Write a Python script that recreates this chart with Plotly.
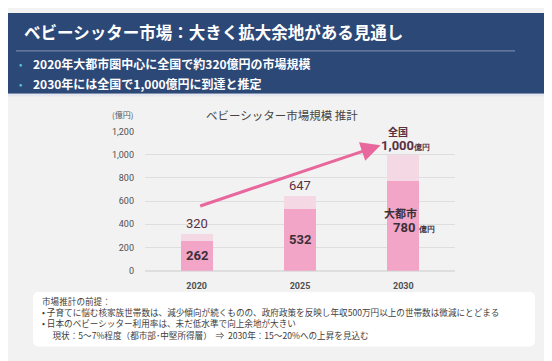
import plotly.graph_objects as go

W, H = 552, 361

# ---- data ----
years = ["2020", "2025", "2030"]
national = [320, 647, 1000]      # 全国 (億円)
metro = [262, 532, 780]          # 大都市 (億円)
y_ticks = [0, 200, 400, 600, 800, 1000, 1200]
y_tick_labels = ["0", "200", "400", "600", "800", "1,000", "1,200"]
trend_start = (0.02, 554)
trend_end = (1.78, 1082)

title = "ベビーシッター市場：大きく拡大余地がある見通し"
bullets = ["2020年大都市圏中心に全国で約320億円の市場規模",
           "2030年には全国で1,000億円に到達と推定"]
chart_title = "ベビーシッター市場規模 推計"
notes = ["市場推計の前提：",
         "• 子育てに悩む核家族世帯数は、減少傾向が続くものの、政府政策を反映し年収500万円以上の世帯数は微減にとどまる",
         "• 日本のベビーシッター利用率は、未だ低水準で向上余地が大きい",
         "　 現状：5～7%程度（都市部･中堅所得層）  ⇒  2030年：15～20%への上昇を見込む"]

upper = [n - m for n, m in zip(national, metro)]
xs = list(range(len(years)))

FONT = "Noto Sans CJK JP"
PINK = "#f2a5c7"
LIGHT = "#f4d8e4"


def px(x):
    return x / W


def py(y):
    return 1 - y / H


fig = go.Figure()
fig.add_trace(go.Bar(x=xs, y=metro, marker=dict(color=PINK, line=dict(width=0)),
                     width=0.31, hoverinfo="skip"))
fig.add_trace(go.Bar(x=xs, y=upper, marker=dict(color=LIGHT, line=dict(width=0)),
                     width=0.31, hoverinfo="skip"))

shapes = [
    dict(type="rect", xref="paper", yref="paper", x0=0, x1=1, y0=py(83), y1=1,
         fillcolor="#2c4877", line=dict(width=0), layer="below"),
    dict(type="rect", xref="paper", yref="paper", x0=0, x1=1, y0=py(86), y1=py(83),
         fillcolor="#e4e7f0", line=dict(width=0), layer="below"),
    dict(type="line", xref="paper", yref="paper", x0=px(8), x1=px(507), y0=py(39), y1=py(39),
         line=dict(color="#8797b8", width=1)),
]
# rounded notes box
x0, x1, y0, y1, r = 25, 527, 287, 343, 6
path = (f"M {px(x0+r)},{py(y0)} L {px(x1-r)},{py(y0)} Q {px(x1)},{py(y0)} {px(x1)},{py(y0+r)} "
        f"L {px(x1)},{py(y1-r)} Q {px(x1)},{py(y1)} {px(x1-r)},{py(y1)} "
        f"L {px(x0+r)},{py(y1)} Q {px(x0)},{py(y1)} {px(x0)},{py(y1-r)} "
        f"L {px(x0)},{py(y0+r)} Q {px(x0)},{py(y0)} {px(x0+r)},{py(y0)} Z")
shapes.append(dict(type="path", xref="paper", yref="paper", path=path,
                   fillcolor="#ffffff", line=dict(width=0), layer="below"))

ann = []
ann.append(dict(text=f"<b>{title}</b>", xref="paper", yref="paper", x=px(14), y=py(20),
                xanchor="left", yanchor="middle", showarrow=False,
                font=dict(family=FONT, size=16.5, color="#ffffff")))
for i, b in enumerate(bullets):
    yy = 52 + 20 * i
    ann.append(dict(text="•", xref="paper", yref="paper", x=px(9), y=py(yy),
                    xanchor="left", yanchor="middle", showarrow=False,
                    font=dict(family=FONT, size=10, color="#5cc4c8")))
    ann.append(dict(text=f"<b>{b}</b>", xref="paper", yref="paper", x=px(23), y=py(yy),
                    xanchor="left", yanchor="middle", showarrow=False,
                    font=dict(family=FONT, size=12, color="#ffffff")))
ann.append(dict(text=chart_title, xref="paper", yref="paper", x=px(274), y=py(105),
                xanchor="center", yanchor="middle", showarrow=False,
                font=dict(family=FONT, size=11.5, color="#444444")))
ann.append(dict(text="(億円)", xref="paper", yref="paper", x=px(127), y=py(104),
                xanchor="right", yanchor="middle", showarrow=False,
                font=dict(family=FONT, size=8, color="#555555")))

# bar labels
for i in range(len(years)):
    if i < len(years) - 1:
        ann.append(dict(text=f"{national[i]:,}", x=xs[i], y=national[i], xref="x", yref="y",
                        yanchor="bottom", yshift=1, showarrow=False,
                        font=dict(family="Roboto", size=13, color="#5a3041")))
        ann.append(dict(text=f"<b>{metro[i]}</b>", x=xs[i], y=metro[i] / 2, xref="x", yref="y",
                        yanchor="middle", showarrow=False,
                        font=dict(family="Roboto", size=13, color="#3b3037")))
    else:
        ann.append(dict(text="<b>全国</b>", x=xs[i], y=national[i], xref="x", yref="y",
                        yanchor="bottom", xshift=-5, yshift=14, showarrow=False,
                        font=dict(family=FONT, size=10, color="#5a3041")))
        ann.append(dict(text=f"<b>{national[i]:,}</b><span style='font-size:8px'><b>億円</b></span>",
                        x=xs[i], y=national[i], xref="x", yref="y",
                        yanchor="bottom", xshift=2, yshift=0, showarrow=False,
                        font=dict(family="Roboto", size=13, color="#5a3041")))
        ann.append(dict(text="<b>大都市</b>", x=xs[i], y=metro[i] / 2, xref="x", yref="y",
                        yanchor="middle", xshift=-3, yshift=12, showarrow=False,
                        font=dict(family=FONT, size=11, color="#3b3037")))
        ann.append(dict(text=f"<b>{metro[i]}</b> <span style='font-size:7.5px'><b>億円</b></span>",
                        x=xs[i], y=metro[i] / 2, xref="x", yref="y",
                        yanchor="middle", xshift=11, yshift=-2, showarrow=False,
                        font=dict(family="Roboto", size=13, color="#3b3037")))

# trend arrow
ann.append(dict(x=trend_end[0], y=trend_end[1], ax=trend_start[0], ay=trend_start[1],
                xref="x", yref="y", axref="x", ayref="y", text="", showarrow=True,
                arrowhead=2, arrowsize=1.3, arrowwidth=3, arrowcolor="#e8679c"))

# notes (one multi-line text block)
ann.append(dict(text="<br>".join(notes), xref="paper", yref="paper", x=px(32), y=py(314),
                xanchor="left", yanchor="middle", align="left", showarrow=False,
                font=dict(family=FONT, size=8.6, color="#404040")))

fig.update_layout(
    width=W, height=H, autosize=False,
    margin=dict(l=0, r=0, t=0, b=0),
    paper_bgcolor="#f2f2f2", plot_bgcolor="#f2f2f2",
    barmode="stack", showlegend=False, bargap=0,
    shapes=shapes, annotations=ann,
    xaxis=dict(domain=[px(137), px(447)], range=[-0.5, 2.5], tickmode="array",
               tickvals=xs, ticktext=[f"<b>{y}</b>" for y in years], showgrid=False,
               zeroline=False, showline=False, ticks="", ticklabelstandoff=8,
               tickfont=dict(family="Roboto", size=9, color="#505050"), fixedrange=True),
    yaxis=dict(domain=[py(265), py(122)], range=[0, 1200], tickmode="array",
               tickvals=y_ticks, ticktext=y_tick_labels, showgrid=True,
               gridcolor="#dedede", gridwidth=1, zeroline=True, zerolinecolor="#dedede",
               showline=False, ticks="", ticklabelstandoff=10,
               tickfont=dict(family="Roboto", size=9, color="#505050"), fixedrange=True),
)

fig.write_html("out.html")
